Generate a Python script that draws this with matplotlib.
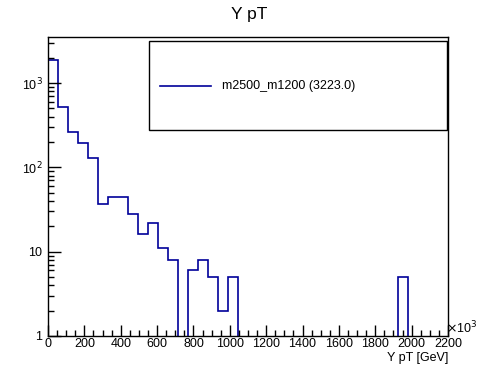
import numpy as np
import matplotlib
matplotlib.use("Agg")
import matplotlib.pyplot as plt
from matplotlib.patches import Rectangle
from matplotlib.lines import Line2D
from matplotlib.ticker import MultipleLocator, LogLocator, FixedFormatter, FixedLocator

plt.rcParams["font.family"] = ["Liberation Sans", "DejaVu Sans"]

# histogram: 40 bins of 55 GeV over 0-2200
bin_edges = np.linspace(0, 2200, 41)
counts = [1882, 516, 261, 193, 129, 37, 44, 45, 28, 16,
          22, 11, 8, 0, 6, 8, 5, 2, 5, 0,
          0, 0, 0, 0, 0, 0, 0, 0, 0, 0,
          0, 0, 0, 0, 0, 5, 0, 0, 0, 0]
label = "m2500_m1200 (3223.0)"
title = "Y pT"
xlabel = "Y pT [GeV]"
color = "#000099"

W, H = 498, 374
fig = plt.figure(figsize=(W / 100, H / 100), dpi=100)
ax = fig.add_axes([48 / W, 38 / H, 400 / W, 299 / H])

vals = np.array(counts, dtype=float)
vals = np.where(vals > 0, vals, 0.1)  # empty bins drop below the axis like ROOT
ax.stairs(vals, bin_edges, color=color, lw=1.2, baseline=None)

ax.set_yscale("log")
ax.set_xlim(0, 2200)
ax.set_ylim(1, 3520)

# ROOT-like ticks
ax.xaxis.set_major_locator(MultipleLocator(200))
ax.xaxis.set_minor_locator(MultipleLocator(50))
ax.yaxis.set_major_locator(FixedLocator([1, 10, 100, 1000]))
ax.yaxis.set_major_formatter(FixedFormatter(["1", "10", r"10$^{2}$", r"10$^{3}$"]))
ax.yaxis.set_minor_locator(LogLocator(base=10, subs=np.arange(2, 10)))
ax.yaxis.set_minor_formatter(plt.NullFormatter())
ax.tick_params(which="both", direction="in", top=False, right=False, labelsize=9, width=1)
ax.tick_params(axis="x", which="major", length=8, pad=1.5)
ax.tick_params(axis="x", which="minor", length=4)
ax.tick_params(axis="y", which="major", length=9, pad=4)
ax.tick_params(axis="y", which="minor", length=4.5)
for s in ax.spines.values():
    s.set_linewidth(1)

fig.text(0.5, 1 - 14 / H, title, ha="center", va="center", fontsize=12.5)
fig.text(448 / W, 1 - 357.5 / H, xlabel, ha="right", va="center", fontsize=9)
fig.text(446 / W, 1 - 328 / H, r"$\times$10$^{3}$", ha="left", va="center", fontsize=9)

# legend box
fig.patches.append(Rectangle((149 / W, 1 - 130 / H), 298 / W, 89 / H,
                             transform=fig.transFigure, fill=False, edgecolor="black", lw=1))
fig.lines.append(Line2D([160 / W, 211 / W], [1 - 86 / H, 1 - 86 / H],
                        transform=fig.transFigure, color=color, lw=1.2))
fig.text(222 / W, 1 - 86 / H, label, ha="left", va="center", fontsize=9)

fig.savefig("out.png", dpi=100)
